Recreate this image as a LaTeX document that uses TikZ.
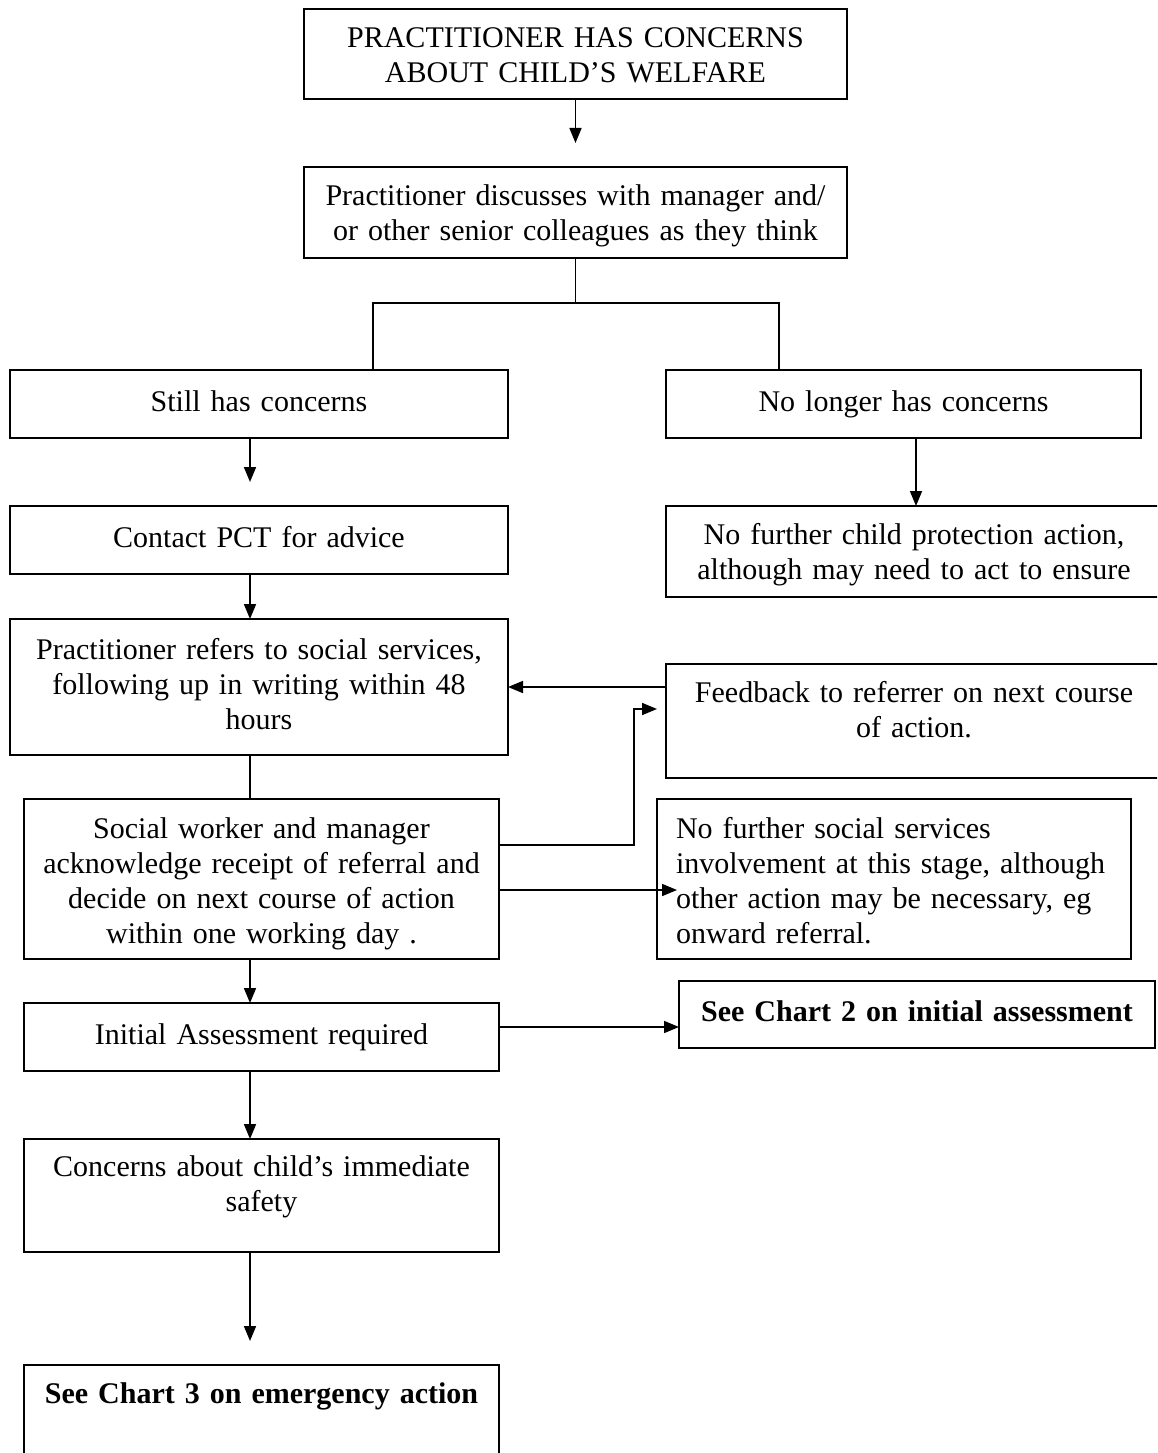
\documentclass[tikz,border=0pt]{standalone}
\usepackage{fontspec}
\setmainfont{Liberation Serif}
\usetikzlibrary{arrows.meta,calc}
\def\boxdown{24.5pt}
\begin{document}
\begin{tikzpicture}[x=1pt,y=-1pt,
  font=\fontsize{30}{35}\selectfont,
  down/.code={\def\boxdown{#1}},
  box/.style={draw, line width=1.7pt, inner sep=5pt, outer sep=0pt, align=center,
    execute at begin node={\rule{0pt}{\boxdown}}, execute at end node=\strut},
  frame/.style={draw, line width=1.7pt, inner sep=0pt, outer sep=0pt},
  txt/.style={inner sep=0pt, align=center,
    execute at begin node=\strut, execute at end node=\strut},
  arr/.style={line width=1.7pt, -{Triangle[length=15pt,width=12pt]}},
  ln/.style={line width=1.7pt}]
\path[use as bounding box, clip] (0,0) rectangle (1157,1453);
\fill[white] (0,0) rectangle (1157,1453);

\node[box, down=32.5pt, minimum width=543pt, minimum height=90pt, text width=520pt] (b1) at (575.5,54) {PRACTITIONER HAS CONCERNS\\ABOUT CHILD’S WELFARE};
\node[box, down=30.5pt, minimum width=543pt, minimum height=91pt, text width=520pt] (b2) at (575.5,212.5) {Practitioner discusses with manager and/\\or other senior colleagues as they think};
\node[box, minimum width=498pt, minimum height=68pt, text width=470pt] (b3) at (259,404) {Still has concerns};
\node[box, minimum width=475pt, minimum height=68pt, text width=450pt] (b4) at (903.5,404) {No longer has concerns};
\node[box, minimum width=498pt, minimum height=68pt, text width=470pt] (b5) at (259,540) {Contact PCT for advice};
\node[box, down=30.5pt, minimum width=496pt, minimum height=91pt, text width=470pt] (b6) at (914,551.5) {No further child protection action,\\although may need to act to ensure};
\node[box, minimum width=498pt, minimum height=136pt, text width=470pt] (b7) at (259,687) {Practitioner refers to social services,\\following up in writing within 48\\hours};
\node[frame, minimum width=496pt, minimum height=114pt] (fb) at (914,721) {};
\node[txt, text width=470pt] (fbt) at ([yshift=8pt]fb.center) {Feedback to referrer on next course\\of action.};
\node[box, down=34.5pt, minimum width=475pt, minimum height=158pt, text width=450pt] (b9) at (261.5,879) {Social worker and manager\\acknowledge receipt of referral and\\decide on next course of action\\within one working day .};
\node[box, down=34.5pt, minimum width=474pt, minimum height=158pt, text width=436pt, align=left] (b10) at (894,879) {No further social services\\involvement at this stage, although\\other action may be necessary, eg\\onward referral.};
\node[box, minimum width=475pt, minimum height=68pt, text width=450pt] (ia) at (261.5,1037) {Initial Assessment required};
\node[box, minimum width=476pt, minimum height=67pt, text width=450pt] (c2) at (917,1014.5) {\textbf{See Chart 2 on initial assessment}};
\node[frame, minimum width=475pt, minimum height=113pt] (b13) at (261.5,1195.5) {};
\node[txt, text width=450pt] (b13t) at ([yshift=8.5pt]b13.center) {Concerns about child’s immediate\\safety};
\node[frame, minimum width=475pt, minimum height=110pt] (c3) at (261.5,1420) {};
\node[txt, text width=450pt] (c3t) at ([yshift=24pt]c3.center) {\textbf{See Chart 3 on emergency action}};

\coordinate (sx) at (250,0);
\coordinate (rx) at (916,0);
\coordinate (jl) at (373,303);
\coordinate (jr) at (779,303);

\draw[arr, shorten >=24pt] (b1.south) -- (b2.north);
\draw[ln] (b2.south) -- (b2.south |- jl);
\draw[ln] (jl |- b3.north) -- (jl) -- (jr) -- (jr |- b4.north);
\draw[arr, shorten >=24pt] (b3.south -| sx) -- (b5.north -| sx);
\draw[arr] (b4.south -| rx) -- (b6.north -| rx);
\draw[arr] (b5.south -| sx) -- (b7.north -| sx);
\draw[arr] (fb.west |- b7.east) -- (b7.east);
\draw[ln] (b7.south -| sx) -- (b9.north -| sx);
\draw[arr, shorten >=9pt] ([yshift=34pt]b9.east) -| ([xshift=-32pt,yshift=12pt]fb.west) -- ([yshift=12pt]fb.west);
\draw[arr, shorten >=-20pt] ([yshift=-11pt]b9.east) -- ([yshift=-11pt]b9.east -| b10.west);
\draw[arr] (b9.south -| sx) -- (ia.north -| sx);
\draw[arr] ([yshift=10pt]ia.east) -- ([yshift=10pt]ia.east -| c2.west);
\draw[arr] (ia.south -| sx) -- (b13.north -| sx);
\draw[arr, shorten >=24pt] (b13.south -| sx) -- (c3.north -| sx);
\end{tikzpicture}
\end{document}
